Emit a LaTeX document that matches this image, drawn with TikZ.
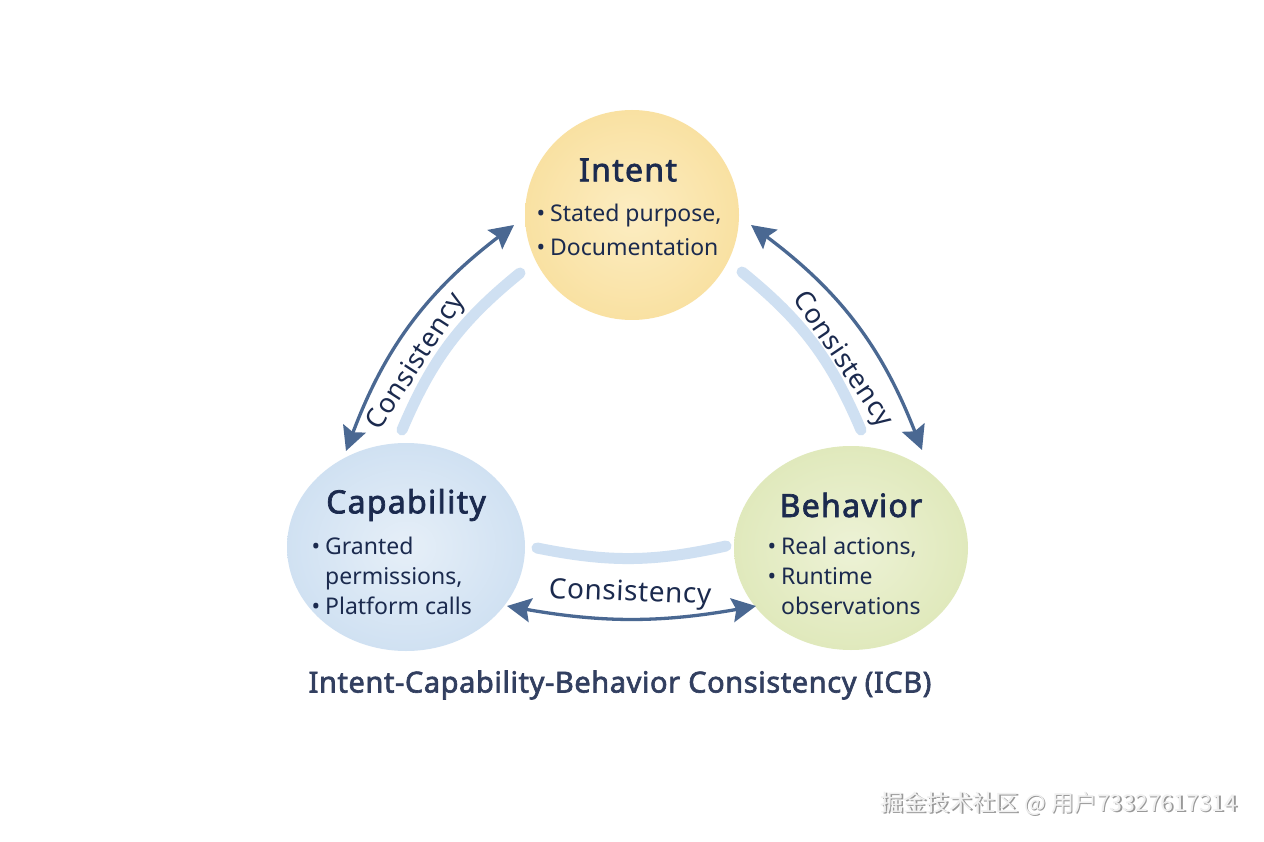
\documentclass[tikz,border=0pt]{standalone}
\usepackage{fontspec}
\setmainfont{Noto Sans}[AutoFakeBold=2.2]
\newfontfamily\cjk{Noto Sans CJK SC}
\usetikzlibrary{arrows.meta,shapes.geometric}
\definecolor{navy}{HTML}{1B2A4E}
\definecolor{arrowc}{HTML}{4A6892}
\definecolor{bandc}{HTML}{CFE0F2}
\definecolor{yelin}{HTML}{FCEDC2}
\definecolor{yelout}{HTML}{F9E1A2}
\definecolor{bluin}{HTML}{E6EFF8}
\definecolor{bluout}{HTML}{D0E1F2}
\definecolor{grnin}{HTML}{EDF2D6}
\definecolor{grnout}{HTML}{E0E9BC}
\tikzset{
  x=1pt, y=-1pt,
  blob/.style={ellipse, inner sep=0pt},
  ttl/.style={font=\fontsize{32}{36}\selectfont\addfontfeatures{LetterSpace=4}\bfseries, text=navy},
  bul/.style={font=\fontsize{23}{30}\selectfont, text=navy, align=left},
  dbl/.style={arrowc, line width=3.3pt, {Stealth[length=24pt,width=24pt,inset=4pt]}-{Stealth[length=24pt,width=24pt,inset=4pt]}},
  band/.style={bandc, line width=11pt, line cap=round},
  lbl/.style={font=\fontsize{27}{30}\selectfont\addfontfeatures{LetterSpace=2}, text=navy},
}
\begin{document}
\begin{tikzpicture}
\useasboundingbox[fill=white] (0,0) rectangle (1264,842);
% circles
\shade[inner color=yelin, outer color=yelout] (632,215) ellipse [x radius=107, y radius=105];
\shade[inner color=bluin, outer color=bluout] (406,547) ellipse [x radius=119, y radius=104];
\shade[inner color=grnin, outer color=grnout] (851,548) ellipse [x radius=117, y radius=102];
\node[blob, minimum width=214pt, minimum height=210pt] (intent) at (632,215) {};
\node[blob, minimum width=238pt, minimum height=208pt] (cap) at (406,547) {};
\node[blob, minimum width=234pt, minimum height=204pt] (beh) at (851,548) {};
% texts
\node[ttl] (tI) at (628,170) {Intent};
\node[bul, anchor=north west] (bI) at (533,197) {\begin{tabular}{@{}l@{\hspace{5pt}}l@{}}•&Stated purpose,\\[4pt] •&Documentation\end{tabular}};
\node[ttl] (tC) at (406,505) {Capability};
\node[bul, anchor=north west] (bC) at (308,530) {\begin{tabular}{@{}l@{\hspace{5pt}}l@{}}•&Granted\\ &permissions,\\ •&Platform calls\end{tabular}};
\node[ttl] (tB) at (851,505) {Behavior};
\node[bul, anchor=north west] (bB) at (764,530) {\begin{tabular}{@{}l@{\hspace{5pt}}l@{}}•&Real actions,\\ •&Runtime\\ &observations\end{tabular}};
% connector endpoints
\coordinate (a1) at (346,451);
\coordinate (a2) at (514,225);
\coordinate (b1) at (751,225);
\coordinate (b2) at (922,450);
\coordinate (c1) at (507,606);
\coordinate (c2) at (756,606);
\coordinate (l1) at (402,430);
\coordinate (l2) at (520,273);
\coordinate (r1) at (742,272);
\coordinate (r2) at (861,430);
\coordinate (m1) at (537,548);
\coordinate (m2) at (726,546);
% bands
\draw[band] (l1) to[bend left=14] (l2);
\draw[band] (r1) to[bend left=14] (r2);
\draw[band] (m1) to[bend right=12] (m2);
% arrows
\draw[dbl] (a1) to[bend left=16] (a2);
\draw[dbl] (b1) to[bend left=16] (b2);
\draw[dbl] (c1) to[bend right=10] (c2);
% labels
\node[lbl, rotate=57] (lc1) at (417,362) {Consistency};
\node[lbl, rotate=-56] (lc2) at (842,360) {Consistency};
\node[lbl, rotate=-2, font=\fontsize{28}{30}\selectfont\addfontfeatures{LetterSpace=2}] (lc3) at (630,594) {Consistency};
% caption
\node[font=\fontsize{29}{32}\selectfont\addfontfeatures{LetterSpace=2}\bfseries, text=navy!90] (cap2) at (620,685) {Intent-Capability-Behavior Consistency (ICB)};
% watermark
\node[font=\cjk\fontsize{23}{26}\selectfont, text=gray!80, anchor=east] (wm0) at (1242.5,805) {掘金技术社区 @ 用户73327617314};
\node[font=\cjk\fontsize{23}{26}\selectfont, text=gray!12, anchor=east] (wm) at (1241,804) {掘金技术社区 @ 用户73327617314};
\end{tikzpicture}
\end{document}
